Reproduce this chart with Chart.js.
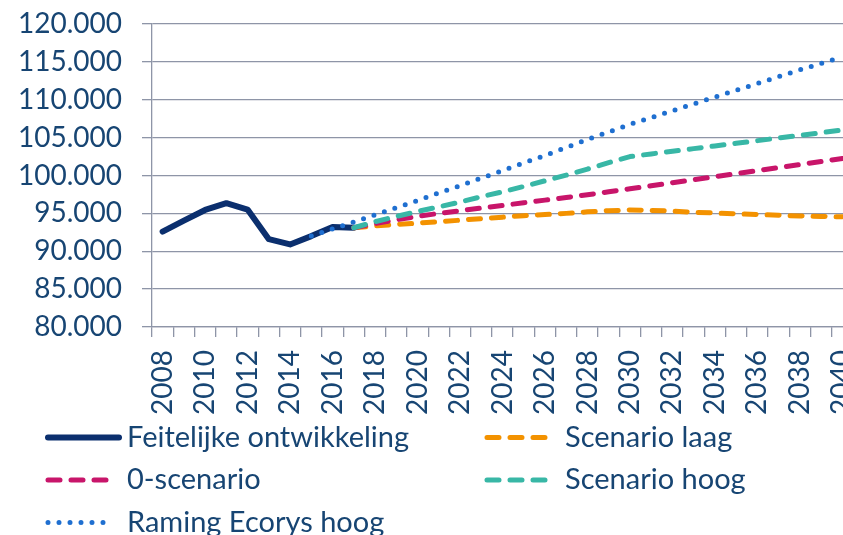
<!DOCTYPE html>
<html>
<head>
    <meta charset="UTF-8">
    <title>Ontwikkeling en scenario's</title>
    <script src="https://cdn.jsdelivr.net/npm/chart.js"></script>
    <style>
        html, body { margin: 0; padding: 0; background: #fff; overflow: hidden; }
        #wrap { width: 853px; height: 535px; }
    </style>
</head>
<body>
<div id="wrap"><canvas id="chart" width="853" height="535"></canvas></div>

<script>
    // categories
    const years = ['2008','2009','2010','2011','2012','2013','2014','2015','2016','2017',
        '2018','2019','2020','2021','2022','2023','2024','2025','2026','2027','2028','2029',
        '2030','2031','2032','2033','2034','2035','2036','2037','2038','2039','2040'];

    // series values
    const feitelijk = [92600, 94050, 95450, 96350, 95500, 91600, 90900, 92000, 93200, 93100,
        null, null, null, null, null, null, null, null, null, null, null, null, null,
        null, null, null, null, null, null, null, null, null, null];
    const scenarioLaag = [null, null, null, null, null, null, null, null, null,
        93100, 93350, 93550, 93700, 93900, 94100, 94300, 94500, 94700, 94850, 95000, 95200,
        95350, 95450, 95400, 95300, 95150, 95050, 94950, 94850, 94750, 94650, 94600, 94550];
    const nulScenario = [null, null, null, null, null, null, null, null, null,
        93100, 93650, 94150, 94600, 95000, 95350, 95700, 96050, 96400, 96750, 97100, 97450,
        97850, 98250, 98650, 99050, 99450, 99850, 100250, 100650, 101050, 101450, 101850, 102250];
    const scenarioHoog = [null, null, null, null, null, null, null, null, null,
        93100, 93900, 94600, 95250, 95850, 96500, 97200, 97850, 98550, 99300, 100050, 100850,
        101700, 102500, 102850, 103200, 103550, 103900, 104250, 104600, 104950, 105300, 105650, 106000];
    const ramingEcorys = [null, null, null, null, null, null, null,
        92000, 92950, 93850, 94800, 95750, 96700, 97700, 98650, 99650, 100650, 101650, 102650,
        103700, 104750, 105750, 106750, 107650, 108550, 109450, 110350, 111250, 112150, 113050,
        113950, 114800, 115650];

    // y axis
    const yMin = 80000, yMax = 120000, yStep = 5000;

    const textColor = '#174573';
    const gridColor = '#8e95a7';
    const fontFamily = 'Lato, "Open Sans", sans-serif';

    function fmt(v) {
        return String(v).replace(/\B(?=(\d{3})+(?!\d))/g, '.');
    }

    // legend in two columns under the chart, like the original
    const slots = [
        { col: 0, row: 0, len: 71 },
        { col: 1, row: 0, len: 62 },
        { col: 0, row: 1, len: 62 },
        { col: 1, row: 1, len: 62 },
        { col: 0, row: 2, len: 62 }
    ];
    const legendPlugin = {
        id: 'gridLegend',
        afterDraw(chart) {
            const ctx = chart.ctx;
            const colX = [48, 487];
            const textX = [127, 565];
            const rowY = [437.5, 480, 522.5];
            chart.data.datasets.forEach((ds, i) => {
                const s = slots[i];
                const x = colX[s.col], y = rowY[s.row];
                ctx.save();
                ctx.strokeStyle = ds.borderColor;
                ctx.lineWidth = ds.borderWidth;
                ctx.lineCap = 'round';
                ctx.setLineDash(ds.borderDash || []);
                ctx.beginPath();
                ctx.moveTo(x, y);
                ctx.lineTo(x + s.len, y);
                ctx.stroke();
                ctx.setLineDash([]);
                ctx.fillStyle = textColor;
                ctx.font = '29px ' + fontFamily;
                ctx.textBaseline = 'middle';
                ctx.fillText(ds.label, textX[s.col], y);
                ctx.restore();
            });
        }
    };

    const ctx = document.getElementById('chart').getContext('2d');
    new Chart(ctx, {
        type: 'line',
        data: {
            labels: years,
            datasets: [
                { label: 'Feitelijke ontwikkeling', data: feitelijk, borderColor: '#0b2f6e',
                  borderWidth: 6, order: 5 },
                { label: 'Scenario laag', data: scenarioLaag, borderColor: '#f39200',
                  borderWidth: 5, borderDash: [12, 11], order: 4 },
                { label: '0-scenario', data: nulScenario, borderColor: '#c8156a',
                  borderWidth: 5, borderDash: [12, 11], order: 3 },
                { label: 'Scenario hoog', data: scenarioHoog, borderColor: '#38b7a6',
                  borderWidth: 5, borderDash: [12, 11], order: 2 },
                { label: 'Raming Ecorys hoog', data: ramingEcorys, borderColor: '#1f6fd0',
                  borderWidth: 5, borderDash: [0, 11], order: 1 }
            ]
        },
        options: {
            responsive: false,
            animation: false,
            elements: {
                line: { tension: 0, borderCapStyle: 'round', borderJoinStyle: 'round', fill: false },
                point: { radius: 0, hoverRadius: 0 }
            },
            layout: { padding: { top: 24, left: 0, right: 0, bottom: 0 } },
            plugins: {
                legend: { display: false },
                tooltip: { enabled: false }
            },
            scales: {
                x: {
                    offset: true,
                    grid: { offset: true, drawOnChartArea: false, drawTicks: true,
                            tickLength: 10, color: gridColor, lineWidth: 1.3 },
                    border: { color: gridColor, width: 1.3 },
                    ticks: {
                        autoSkip: false, minRotation: 90, maxRotation: 90, padding: 13,
                        color: textColor, font: { family: fontFamily, size: 28 },
                        callback: (v, i) => (i % 2 === 0 ? years[i] : '')
                    },
                    afterFit: (scale) => {
                        scale.height = 208;
                        scale.paddingLeft = 0;
                        scale.paddingRight = 0;
                    }
                },
                y: {
                    min: yMin, max: yMax,
                    grid: { color: gridColor, lineWidth: 1.3, tickLength: 10 },
                    border: { color: gridColor, width: 1.3 },
                    ticks: {
                        stepSize: yStep, padding: 20, autoSkip: false, color: textColor,
                        font: { family: fontFamily, size: 28 },
                        callback: (v) => fmt(v)
                    },
                    afterFit: (scale) => {
                        scale.width = 152;
                        scale.paddingTop = 0;
                        scale.paddingBottom = 0;
                    }
                }
            }
        },
        plugins: [legendPlugin]
    });
</script>
</body>
</html>
